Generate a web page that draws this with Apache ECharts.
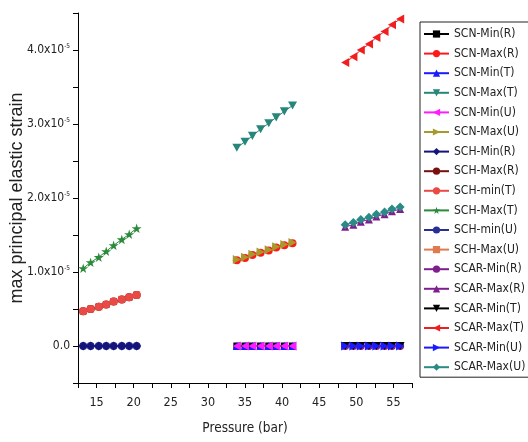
<!DOCTYPE html>
<html><head><meta charset="utf-8">
<script src="https://cdn.jsdelivr.net/npm/echarts@6/dist/echarts.min.js"></script>
<style>html,body{margin:0;padding:0;background:#fff}#c{width:528px;height:442px}</style>
</head><body><div id="c"></div>
<script>
// Pressure (bar) for each geometry group
const pressureSCH = [13.2, 14.2, 15.3, 16.3, 17.3, 18.4, 19.4, 20.4];
const pressureSCN = [33.9, 35.0, 36.0, 37.1, 38.2, 39.2, 40.3, 41.4];
const pressureSCAR = [48.5, 49.6, 50.6, 51.7, 52.7, 53.8, 54.8, 55.9];

// max principal elastic strain, in units of 1e-5
const scnMinR = [0, 0, 0, 0, 0, 0, 0, 0];
const scnMaxR = [1.16, 1.19, 1.23, 1.26, 1.29, 1.33, 1.36, 1.39];
const scnMinT = [0, 0, 0, 0, 0, 0, 0, 0];
const scnMaxT = [2.68, 2.76, 2.84, 2.93, 3.01, 3.09, 3.17, 3.25];
const scnMinU = [0, 0, 0, 0, 0, 0, 0, 0];
const scnMaxU = [1.17, 1.20, 1.24, 1.27, 1.30, 1.34, 1.37, 1.40];
const schMinR = [0, 0, 0, 0, 0, 0, 0, 0];
const schMaxR = [0.47, 0.50, 0.53, 0.56, 0.60, 0.63, 0.66, 0.69];
const schMinT = [0.47, 0.50, 0.53, 0.56, 0.60, 0.63, 0.66, 0.69];
const schMaxT = [1.05, 1.13, 1.20, 1.28, 1.36, 1.44, 1.51, 1.59];
const schMinU = [0, 0, 0, 0, 0, 0, 0, 0];
const schMaxU = [0.47, 0.50, 0.53, 0.56, 0.60, 0.63, 0.66, 0.69];
const scarMinR = [0, 0, 0, 0, 0, 0, 0, 0];
const scarMaxR = [1.61, 1.64, 1.68, 1.71, 1.75, 1.78, 1.82, 1.85];
const scarMinT = [0, 0, 0, 0, 0, 0, 0, 0];
const scarMaxT = [3.83, 3.91, 4.00, 4.08, 4.17, 4.25, 4.34, 4.42];
const scarMinU = [0, 0, 0, 0, 0, 0, 0, 0];
const scarMaxU = [1.64, 1.67, 1.71, 1.74, 1.78, 1.81, 1.85, 1.88];

const seriesNames = ['SCN-Min(R)','SCN-Max(R)','SCN-Min(T)','SCN-Max(T)','SCN-Min(U)','SCN-Max(U)',
  'SCH-Min(R)','SCH-Max(R)','SCH-min(T)','SCH-Max(T)','SCH-min(U)','SCH-Max(U)',
  'SCAR-Min(R)','SCAR-Max(R)','SCAR-Min(T)','SCAR-Max(T)','SCAR-Min(U)','SCAR-Max(U)'];

const xTickLabels = [15, 20, 25, 30, 35, 40, 45, 50, 55];
const yTickLabels = [0, 1, 2, 3, 4];

const DOWN = 'path://M0,0L10,0L5,9Z';
const LEFT = 'path://M9,0L9,10L0,5Z';
const RIGHT = 'path://M0,0L9,5L0,10Z';
const STAR = 'path://M50,0L61,35L98,35L68,57L79,91L50,70L21,91L32,57L2,35L39,35Z';

const specs = [
  [pressureSCN, scnMinR, '#000000', 'rect', 7],
  [pressureSCN, scnMaxR, '#ff1a1a', 'circle', 8],
  [pressureSCN, scnMinT, '#1a1aff', 'triangle', 8],
  [pressureSCN, scnMaxT, '#26867a', DOWN, 9],
  [pressureSCN, scnMinU, '#ff1aff', LEFT, 9],
  [pressureSCN, scnMaxU, '#a69a2a', RIGHT, 9],
  [pressureSCH, schMinR, '#14147a', 'diamond', 9],
  [pressureSCH, schMaxR, '#7a0f0f', 'circle', 8],
  [pressureSCH, schMinT, '#ea4a45', 'circle', 8],
  [pressureSCH, schMaxT, '#2a8a3a', STAR, 10],
  [pressureSCH, schMinU, '#2a2f96', 'circle', 8, 1],
  [pressureSCH, schMaxU, '#e07a50', 'rect', 7, 1],
  [pressureSCAR, scarMinR, '#7f1f8f', 'circle', 8],
  [pressureSCAR, scarMaxR, '#7f1f8f', 'triangle', 8],
  [pressureSCAR, scarMinT, '#000000', DOWN, 9],
  [pressureSCAR, scarMaxT, '#f01e1e', LEFT, 9],
  [pressureSCAR, scarMinU, '#1a1aff', RIGHT, 9],
  [pressureSCAR, scarMaxU, '#2a8a86', 'diamond', 9]
];

const NARROW = "'DejaVu Sans Condensed','Liberation Sans',sans-serif";

const series = specs.map((s, i) => ({
  name: seriesNames[i],
  type: 'line',
  data: s[0].map((x, k) => [x, s[1][k]]),
  symbol: s[3],
  symbolSize: s[4],
  symbolKeepAspect: true,
  showAllSymbol: true,
  z: s[5] || 2,
  itemStyle: { color: s[2] },
  lineStyle: { color: s[2], width: 1 },
  emphasis: { disabled: true }
}));

const chart = echarts.init(document.getElementById('c'), null, { renderer: 'canvas' });
chart.setOption({
  animation: false,
  backgroundColor: '#ffffff',
  grid: { left: 78, right: 116, top: 13, bottom: 59, containLabel: false, outerBoundsMode: 'none' },
  legend: {
    orient: 'vertical',
    left: 420, top: 22,
    padding: [5, 4, 3, 3],
    borderColor: '#222', borderWidth: 1,
    itemWidth: 25, itemHeight: 9, itemGap: 5.6,
    textStyle: { fontFamily: NARROW, fontSize: 12, lineHeight: 14, color: '#222' },
    data: seriesNames
  },
  xAxis: {
    type: 'value', min: 12.5, max: 57.5, interval: 2.5,
    name: 'Pressure (bar)', nameLocation: 'middle', nameGap: 38, nameMoveOverlap: false,
    nameTextStyle: { fontFamily: NARROW, fontSize: 13.5, color: '#222' },
    axisLine: { show: true, onZero: false, lineStyle: { color: '#000', width: 1 } },
    axisTick: { show: true, inside: false, length: 5, lineStyle: { color: '#000' } },
    axisLabel: {
      margin: 13, fontFamily: NARROW, fontSize: 12.5, color: '#222',
      formatter: v => xTickLabels.indexOf(v) >= 0 ? String(v) : ''
    },
    splitLine: { show: false }
  },
  yAxis: {
    type: 'value', min: -0.5, max: 4.5, interval: 0.5,
    name: 'max principal elastic strain', nameLocation: 'middle', nameGap: 52, nameMoveOverlap: false,
    nameTextStyle: { fontFamily: "'Liberation Sans',sans-serif", fontSize: 18, color: '#222' },
    axisLine: { show: true, onZero: false, lineStyle: { color: '#000', width: 1 } },
    axisTick: { show: true, inside: false, length: 5, lineStyle: { color: '#000' } },
    axisLabel: {
      margin: 8, color: '#222',
      formatter: v => {
        const r = Math.round(v * 2) / 2;
        if (yTickLabels.indexOf(r) < 0) return '';
        if (r === 0) return '{b|0.0}';
        return '{b|' + r.toFixed(1) + 'x10}{s|-5}';
      },
      rich: {
        b: { fontFamily: NARROW, fontSize: 12, lineHeight: 14, color: '#222' },
        s: { fontFamily: NARROW, fontSize: 6.5, lineHeight: 7, verticalAlign: 'top', color: '#222' }
      }
    },
    splitLine: { show: false }
  },
  series: series
});
</script>
</body></html>
